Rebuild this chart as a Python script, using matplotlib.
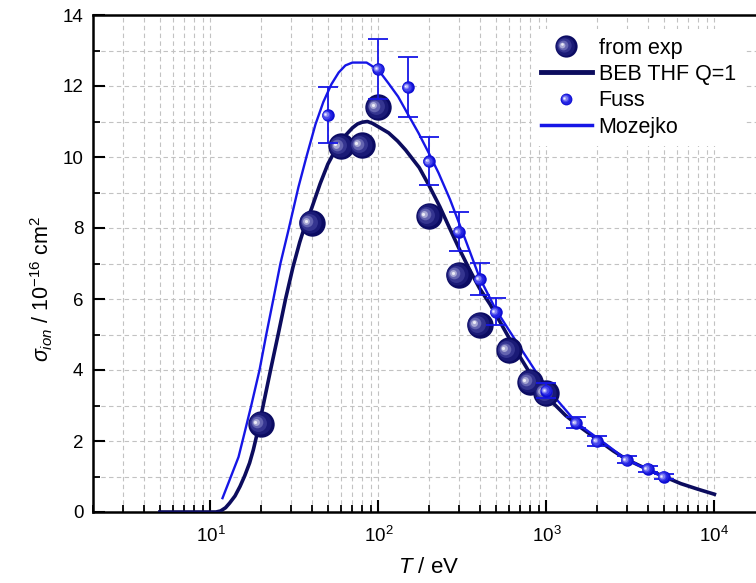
import matplotlib

matplotlib.use("Agg")
import matplotlib.pyplot as plt
import numpy as np
from matplotlib.legend_handler import HandlerBase
from matplotlib.lines import Line2D
from matplotlib.ticker import LogLocator, MultipleLocator, NullFormatter
from matplotlib.transforms import ScaledTranslation

plt.rcParams["font.family"] = ["Liberation Sans", "DejaVu Sans"]
plt.rcParams["mathtext.fontset"] = "custom"
plt.rcParams["mathtext.rm"] = "Liberation Sans"
plt.rcParams["mathtext.it"] = "Liberation Sans:italic"
plt.rcParams["mathtext.bf"] = "Liberation Sans:bold"

# experiment (big balls)
exp_T = [20, 40, 60, 80, 100, 200, 300, 400, 600, 800, 1000]
exp_sigma = [2.48, 8.15, 10.3, 10.33, 11.4, 8.34, 6.68, 5.28, 4.56, 3.67, 3.35]

# Fuss data with error bars
fuss_T = [50, 100, 150, 200, 300, 400, 500, 1000, 1500, 2000, 3000, 4000, 5000]
fuss_sigma = [11.18, 12.48, 11.97, 9.88, 7.9, 6.56, 5.64, 3.42, 2.52, 2.0, 1.47, 1.22, 1.0]
fuss_err = [0.78, 0.85, 0.85, 0.68, 0.55, 0.45, 0.38, 0.22, 0.16, 0.13, 0.1, 0.08, 0.07]

# BEB THF Q=1 curve
beb_T = [5, 10, 10.8, 11.5, 12.3, 13, 14, 15, 16, 17.1, 18, 19.5, 20.6, 22.8,
         25.3, 28, 31, 34, 37, 40, 45, 50, 57, 64, 70, 75, 80, 86, 92, 100,
         115, 130, 145, 175, 200, 232, 265, 300, 351, 400, 462, 530, 608, 700,
         800, 1054, 1300, 1580, 2000, 2500, 3000, 4000, 5000, 6300, 8000, 10000]
beb_sigma = [0, 0, 0, 0.03, 0.12, 0.25, 0.45, 0.72, 1.02, 1.38, 1.75, 2.45, 3.0, 4.0,
             5.0, 6.0, 6.9, 7.6, 8.15, 8.55, 9.25, 9.8, 10.3, 10.62, 10.82, 10.93, 10.98, 11.0, 10.95, 10.85,
             10.68, 10.45, 10.2, 9.7, 9.2, 8.6, 8.0, 7.45, 6.8, 6.3, 5.85, 5.35, 4.85, 4.35,
             3.9, 3.15, 2.72, 2.4, 2.05, 1.72, 1.48, 1.2, 1.0, 0.8, 0.64, 0.5]

# Mozejko curve
moz_T = [11.8, 13, 14.7, 16, 17.5, 19.6, 21.5, 23.7, 26.1, 29, 33.4, 37.5, 42.2, 47,
         52.5, 58, 63.6, 70, 85, 100, 115, 131, 150, 173, 200, 228, 267, 330, 400,
         500, 670, 880, 1160, 1520, 2090, 3000, 4000, 5000]
moz_sigma = [0.39, 0.9, 1.55, 2.25, 3.0, 4.0, 5.0, 6.0, 7.0, 7.9, 9.15, 10.05, 10.92, 11.55,
             12.05, 12.38, 12.58, 12.66, 12.66, 12.45, 12.07, 11.7, 11.2, 10.68, 10.1, 9.55, 8.8, 7.66, 6.6,
             5.7, 4.76, 3.9, 3.15, 2.5, 2.03, 1.47, 1.2, 0.98]

NAVY = "#0c0c5e"
BLUE = "#1616e6"
EXP_SHADES = ["#0b0b62", "#1a1a76", "#353590", "#6464b0", "#a8a8d4", "#ececf6"]
FUSS_SHADES = ["#0e0ed2", "#2222e2", "#4646ec", "#7e7ef2", "#bcbcfa", "#f0f0ff"]
# (size fraction, offset left, offset up) in units of ball diameter
LAYERS = [(1.0, 0.0, 0.0), (0.84, 0.05, 0.02), (0.64, 0.11, 0.04),
          (0.44, 0.16, 0.06), (0.26, 0.2, 0.07), (0.12, 0.22, 0.08)]


def draw_balls(ax, x, y, size, shades, z):
    fig = ax.figure
    for (frac, dx, dy), col in zip(LAYERS, shades):
        tr = ax.transData + ScaledTranslation(-dx * size / 72, dy * size / 72, fig.dpi_scale_trans)
        ax.plot(x, y, ls="none", marker="o", ms=size * frac, mfc=col, mec="none",
                transform=tr, zorder=z)


class BallHandler(HandlerBase):
    def __init__(self, size, shades):
        super().__init__()
        self.size = size
        self.shades = shades

    def create_artists(self, legend, orig_handle, xdescent, ydescent, width, height,
                       fontsize, trans):
        cx = width / 2 - xdescent
        cy = height / 2 - ydescent
        arts = []
        for (frac, dx, dy), col in zip(LAYERS, self.shades):
            ln = Line2D([cx - dx * self.size], [cy + dy * self.size], ls="none", marker="o",
                        ms=self.size * frac, mfc=col, mec="none")
            ln.set_transform(trans)
            arts.append(ln)
        return arts


fig = plt.figure(figsize=(7.56, 5.83), dpi=100)
ax = fig.add_axes([93 / 756, 71 / 583, 672 / 756, 497 / 583])
ax.set_xscale("log")
ax.set_xlim(2, 2e4)
ax.set_ylim(0, 14)

ax.xaxis.set_minor_locator(LogLocator(base=10, subs=np.arange(2, 10)))
ax.xaxis.set_minor_formatter(NullFormatter())
ax.yaxis.set_major_locator(MultipleLocator(2))
ax.yaxis.set_minor_locator(MultipleLocator(1))
ax.grid(True, which="both", color="#c2c2c2", ls=(0, (4, 3)), lw=0.8)
ax.set_axisbelow(True)

ax.tick_params(which="major", direction="in", length=8.5, width=1.5, labelsize=13.5, pad=7,
               top=False, right=False)
ax.tick_params(axis="x", which="major", pad=10)
ax.tick_params(which="minor", direction="in", length=5, width=1.3, top=False, right=False)
for side in ["left", "bottom", "top"]:
    ax.spines[side].set_linewidth(1.8)
ax.spines["right"].set_visible(False)

ax.plot(beb_T, beb_sigma, color=NAVY, lw=2.6, zorder=3)
ax.plot(moz_T, moz_sigma, color=BLUE, lw=1.7, zorder=3)
draw_balls(ax, exp_T, exp_sigma, 19, EXP_SHADES, 4)
ax.errorbar(fuss_T, fuss_sigma, yerr=fuss_err, fmt="none", ecolor=BLUE, elinewidth=1.3,
            capsize=7, capthick=1.3, zorder=5)
draw_balls(ax, fuss_T, fuss_sigma, 9, FUSS_SHADES, 6)

ax.set_xlabel(r"$T$ / eV", fontsize=16, labelpad=8)
ax.set_ylabel(r"$\sigma_{ion}$ / 10$^{\mathregular{-16}}$ cm$^{\mathregular{2}}$", fontsize=15.5)
ax.yaxis.set_label_coords(-0.056, 0.449)

h_exp = Line2D([], [], ls="none", marker="o", ms=16, color=NAVY)
h_beb = Line2D([], [], color=NAVY, lw=3.5)
h_fuss = Line2D([], [], ls="none", marker="o", ms=8.5, color=BLUE)
h_moz = Line2D([], [], color=BLUE, lw=2.5)
leg = ax.legend([h_exp, h_beb, h_fuss, h_moz], ["from exp", "BEB THF Q=1", "Fuss", "Mozejko"],
                handler_map={h_exp: BallHandler(16, EXP_SHADES), h_fuss: BallHandler(8.5, FUSS_SHADES)},
                loc="upper left", bbox_to_anchor=(532 / 756, 1 - 29 / 583),
                bbox_transform=fig.transFigure, fontsize=15.5, frameon=True, fancybox=False,
                edgecolor="none", facecolor="white", framealpha=1, borderpad=0.4,
                borderaxespad=0, handlelength=2.4, handletextpad=0.3, labelspacing=0.25)
leg.set_zorder(10)

fig.savefig("out.png", dpi=100)
plt.close(fig)
